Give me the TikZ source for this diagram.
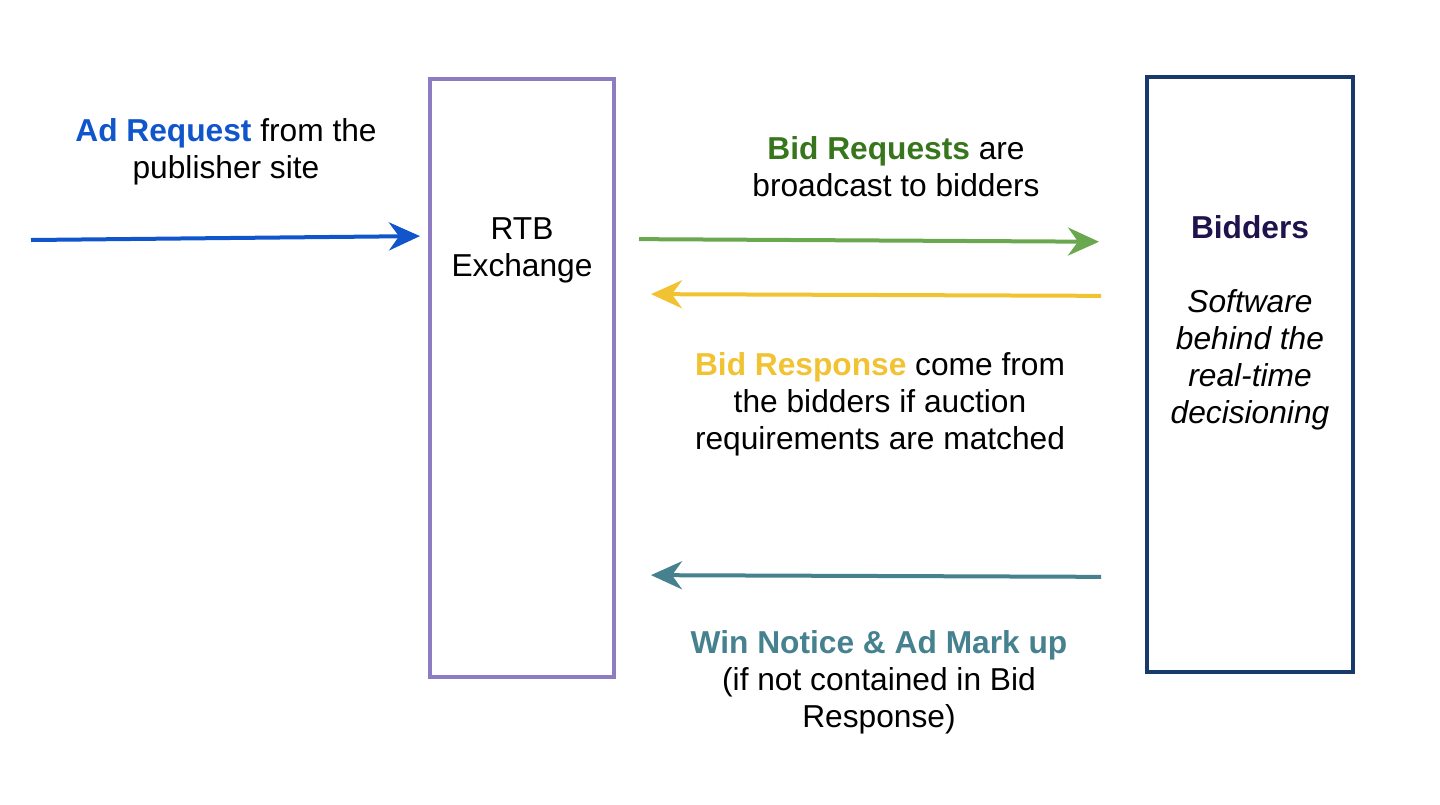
\documentclass[tikz,border=0pt]{standalone}
\usepackage{fontspec}
\setmainfont{Liberation Sans}
\usetikzlibrary{arrows.meta,positioning}
\definecolor{AdBlue}{RGB}{17,85,204}
\definecolor{ReqGreen}{RGB}{106,168,79}
\definecolor{ReqGreenText}{RGB}{56,118,29}
\definecolor{RespYellow}{RGB}{241,194,50}
\definecolor{WinTeal}{RGB}{69,129,142}
\definecolor{ExPurple}{RGB}{142,124,195}
\definecolor{BidNavy}{RGB}{24,58,106}
\definecolor{BidTitle}{RGB}{32,18,77}
\tikzset{
  party/.style={draw,line width=4pt,fill=white,inner sep=0pt},
  caption/.style={align=center,anchor=base,inner sep=0pt,
    font=\fontsize{31.7pt}{37pt}\selectfont},
  flow/.style={line width=4pt,-{Stealth[length=31pt,width=28pt,inset=10pt]}}
}
\begin{document}
\begin{tikzpicture}[x=1pt,y=-1pt]
  \useasboundingbox (0,0) rectangle (1440,804);
  % the two parties
  \node[party,draw=ExPurple,minimum width=184pt,minimum height=598pt] (rtb) at (522,378) {};
  \node[party,draw=BidNavy,minimum width=206pt,minimum height=595pt] (bidders) at (1250,374.5) {};
  \node[caption] (rtbtext) at (522,276) {RTB\\Exchange};
  \node[caption] (bidtext) at (1250,423)
    {\textcolor{BidTitle}{\bfseries Bidders}\\[37pt]
     \itshape Software\\\itshape behind the\\\itshape real-time\\\itshape decisioning};
  % messages
  \coordinate (pub) at (31,240);
  \draw[flow,AdBlue,shorten >=8pt] (pub) -- (rtb.west |- 0,236);
  \draw[flow,ReqGreen,shorten <=23pt,shorten >=46pt] (rtb.east |- 0,239) -- (bidders.west |- 0,242);
  \draw[flow,RespYellow,shorten <=44pt,shorten >=35pt] (bidders.west |- 0,296) -- (rtb.east |- 0,294);
  \draw[flow,WinTeal,shorten <=44pt,shorten >=35pt] (bidders.west |- 0,577) -- (rtb.east |- 0,575);
  % labels
  \node[caption] (adtext) at (226,178)
    {\textcolor{AdBlue}{\bfseries Ad Request} from the\\publisher site};
  \node[caption] (reqtext) at (896,196)
    {\textcolor{ReqGreenText}{\bfseries Bid Requests} are\\broadcast to bidders};
  \node[caption] (resptext) at (880,449)
    {\textcolor{RespYellow}{\bfseries Bid Response} come from\\the bidders if auction\\requirements are matched};
  \node[caption] (wintext) at (879,727)
    {\textcolor{WinTeal}{\bfseries Win Notice \& Ad Mark up}\\(if not contained in Bid\\Response)};
\end{tikzpicture}
\end{document}
